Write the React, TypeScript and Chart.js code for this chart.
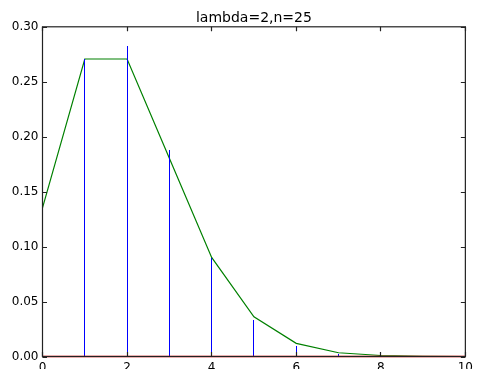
import React, { useEffect, useRef } from "react";
import { Chart, registerables } from "chart.js";

Chart.register(...registerables);

const TITLE = "lambda=2,n=25";
const ks = [0, 1, 2, 3, 4, 5, 6, 7, 8, 9, 10];
const binomValues = [0.1244, 0.2704, 0.2821, 0.1881, 0.0900, 0.0329, 0.0095, 0.0022, 0.0004, 0.0001, 0.0];
const poissonValues = [0.1353, 0.2707, 0.2707, 0.1804, 0.0902, 0.0361, 0.0120, 0.0034, 0.0009, 0.0002, 0.0000];
const xTicks = [0, 2, 4, 6, 8, 10];
const yTicks = [0, 0.05, 0.1, 0.15, 0.2, 0.25, 0.3];

const FONT = "'DejaVu Sans', sans-serif";

// Draw the stem dataset with pixel-snapped vertical lines (positions come from Chart.js elements)
const crispStems = {
  id: "crispStems",
  beforeDatasetDraw(chart: any, args: any) {
    const ds = chart.data.datasets[args.index];
    if (ds.label !== "stems") return;
    const meta = args.meta;
    const ctx = chart.ctx;
    ctx.save();
    ctx.strokeStyle = ds.borderColor;
    ctx.lineWidth = 1;
    ctx.beginPath();
    for (let i = 0; i + 1 < meta.data.length; i += 3) {
      const p0 = meta.data[i];
      const p1 = meta.data[i + 1];
      const x = Math.floor(p0.x) + 0.5;
      ctx.moveTo(x, p0.y);
      ctx.lineTo(x, Math.round(p1.y));
    }
    ctx.stroke();
    ctx.restore();
    return false;
  },
};

const frameTicks = {
  id: "frameTicks",
  afterDatasetsDraw(chart: any) {
    const { ctx, chartArea } = chart;
    const { left, right, top, bottom } = chartArea;
    const xs = chart.scales.x;
    const ys = chart.scales.y;
    const L = 4.5;
    ctx.save();
    ctx.strokeStyle = "#222";
    ctx.lineWidth = 1.2;
    ctx.beginPath();
    for (const t of xTicks) {
      const px = Math.floor(xs.getPixelForValue(t)) + 0.5;
      ctx.moveTo(px, bottom);
      ctx.lineTo(px, bottom - L);
      ctx.moveTo(px, top);
      ctx.lineTo(px, top + L);
    }
    for (const t of yTicks) {
      const py = Math.round(ys.getPixelForValue(t)) + 0.5;
      ctx.moveTo(left, py);
      ctx.lineTo(left + L, py);
      ctx.moveTo(right, py);
      ctx.lineTo(right - L, py);
    }
    ctx.stroke();
    ctx.strokeRect(left, top, right - left, bottom - top);
    ctx.restore();
  },
};

export default function App() {
  const ref = useRef<HTMLCanvasElement>(null);
  useEffect(() => {
    if (!ref.current) return;
    const stems: any[] = [];
    ks.forEach((k, i) => {
      stems.push({ x: k, y: 0 });
      stems.push({ x: k, y: binomValues[i] });
      stems.push({ x: k, y: null });
    });
    const chart = new Chart(ref.current, {
      type: "line",
      data: {
        datasets: [
          {
            label: "poisson",
            data: ks.map((k, i) => ({ x: k, y: poissonValues[i] })),
            borderColor: "#008000",
            borderWidth: 1.2,
            pointRadius: 0,
            tension: 0,
            clip: 2,
            order: 3,
          },
          {
            label: "stems",
            data: stems,
            borderColor: "#0000ff",
            borderWidth: 1,
            pointRadius: 0,
            spanGaps: false,
            clip: 2,
            order: 2,
          },
          {
            label: "baseline",
            data: [
              { x: ks[0], y: 0 },
              { x: ks[ks.length - 1], y: 0 },
            ],
            borderColor: "#ff0000",
            borderWidth: 1.5,
            pointRadius: 0,
            clip: 2,
            order: 1,
          },
        ],
      },
      options: {
        responsive: false,
        animation: false,
        devicePixelRatio: 1,
        layout: { padding: { left: 0, right: 9.5, top: 0, bottom: 0 } },
        plugins: {
          legend: { display: false },
          tooltip: { enabled: false },
          title: {
            display: true,
            text: TITLE,
            fullSize: false,
            color: "#000",
            font: { family: FONT, size: 14, weight: "normal" },
            padding: { top: 10, bottom: 0 },
          },
        },
        scales: {
          x: {
            type: "linear",
            min: 0,
            max: 10,
            grid: { display: false, drawTicks: false },
            border: { display: false },
            afterBuildTicks: (s: any) => {
              s.ticks = xTicks.map((v) => ({ value: v }));
            },
            afterFit: (s: any) => {
              s.height = 12.5;
            },
            ticks: {
              color: "#000",
              padding: 4,
              maxRotation: 0,
              autoSkip: false,
              font: { family: FONT, size: 12 },
              callback: (v: any) => String(v),
            },
          },
          y: {
            type: "linear",
            min: 0,
            max: 0.3,
            grid: { display: false, drawTicks: false },
            border: { display: false },
            afterBuildTicks: (s: any) => {
              s.ticks = yTicks.map((v) => ({ value: v }));
            },
            afterFit: (s: any) => {
              s.width = 42.5;
            },
            ticks: {
              color: "#000",
              padding: 4,
              autoSkip: false,
              font: { family: FONT, size: 12 },
              callback: (v: any) => Number(v).toFixed(2),
            },
          },
        },
      },
      plugins: [crispStems, frameTicks],
    });
    return () => chart.destroy();
  }, []);
  return (
    <div style={{ position: "fixed", left: 0, top: 0, width: 477, height: 369, background: "#fff" }}>
      <canvas ref={ref} width={477} height={369} style={{ width: 477, height: 369 }} />
    </div>
  );
}
